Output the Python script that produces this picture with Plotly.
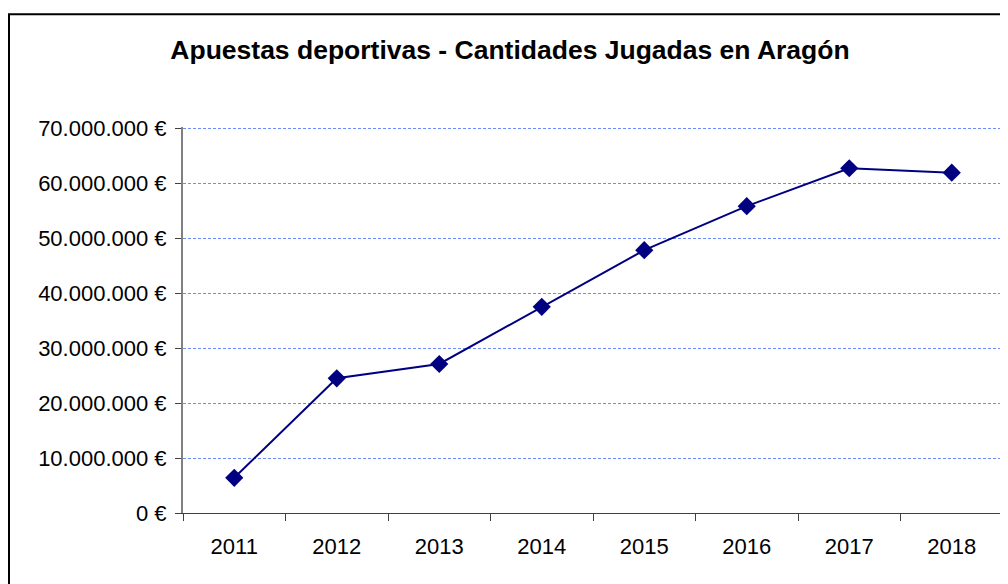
import plotly.graph_objects as go

years = ["2011", "2012", "2013", "2014", "2015", "2016", "2017", "2018"]
amounts = [6.4e6, 24.5e6, 27.1e6, 37.5e6, 47.8e6, 55.8e6, 62.7e6, 61.9e6]
y_tick_vals = [0, 10e6, 20e6, 30e6, 40e6, 50e6, 60e6, 70e6]
y_tick_text = ["0 €", "10.000.000 €", "20.000.000 €", "30.000.000 €",
               "40.000.000 €", "50.000.000 €", "60.000.000 €", "70.000.000 €"]
title_text = "Apuestas deportivas - Cantidades Jugadas en Aragón"

# page body has an 8px margin, so the figure is drawn in page coords minus 8
OFF = 8
W, H = 1000, 576
YMAX = 70.2e6
top_px = 513 - (513 - 128) * YMAX / 70e6
L, R, T, B = 183 - OFF, 5, top_px - OFF, 576 - (513 - OFF)
pw, ph = W - L - R, H - T - B

fig = go.Figure()
fig.add_trace(go.Scatter(
    x=years, y=amounts, mode="lines+markers",
    line=dict(color="#000080", width=2),
    marker=dict(symbol="diamond", size=14, color="#000080"),
    showlegend=False,
))

def px_x(x):
    return (x - OFF - L) / pw

def px_y(y):
    return (H - B - (y - OFF)) / ph

fig.add_shape(type="rect", xref="paper", yref="paper",
              x0=px_x(9), x1=px_x(1012), y0=px_y(620), y1=px_y(14),
              line=dict(color="black", width=2), fillcolor="rgba(0,0,0,0)", layer="below")

fig.update_layout(
    width=W, height=H,
    margin=dict(l=L, r=R, t=T, b=B),
    paper_bgcolor="white", plot_bgcolor="white",
    font=dict(family="Liberation Sans, Arial, sans-serif", size=22, color="black"),
    title=dict(text="<b>" + title_text + "</b>", x=(510 - OFF) / W, xanchor="center",
               y=1 - (50 - OFF) / H, yanchor="middle",
               font=dict(size=26.5, family="Liberation Sans, Arial, sans-serif", color="black")),
    xaxis=dict(type="category", tickson="boundaries", ticks="outside", ticklen=7,
               tickcolor="#404040", showline=True, linecolor="#404040", linewidth=1,
               showgrid=False, range=[-0.5, 7.5], tickfont=dict(size=22),
               ticklabelstandoff=14),
    yaxis=dict(range=[0, YMAX], tickvals=y_tick_vals, ticktext=y_tick_text,
               ticks="outside", ticklen=6, tickcolor="#404040",
               showline=True, linecolor="#808080", linewidth=2,
               showgrid=True, gridcolor="#6a8cff", griddash="3px,2px", gridwidth=1,
               zeroline=False, tickfont=dict(size=22), ticklabelstandoff=4),
)

fig.write_html("out.html")
